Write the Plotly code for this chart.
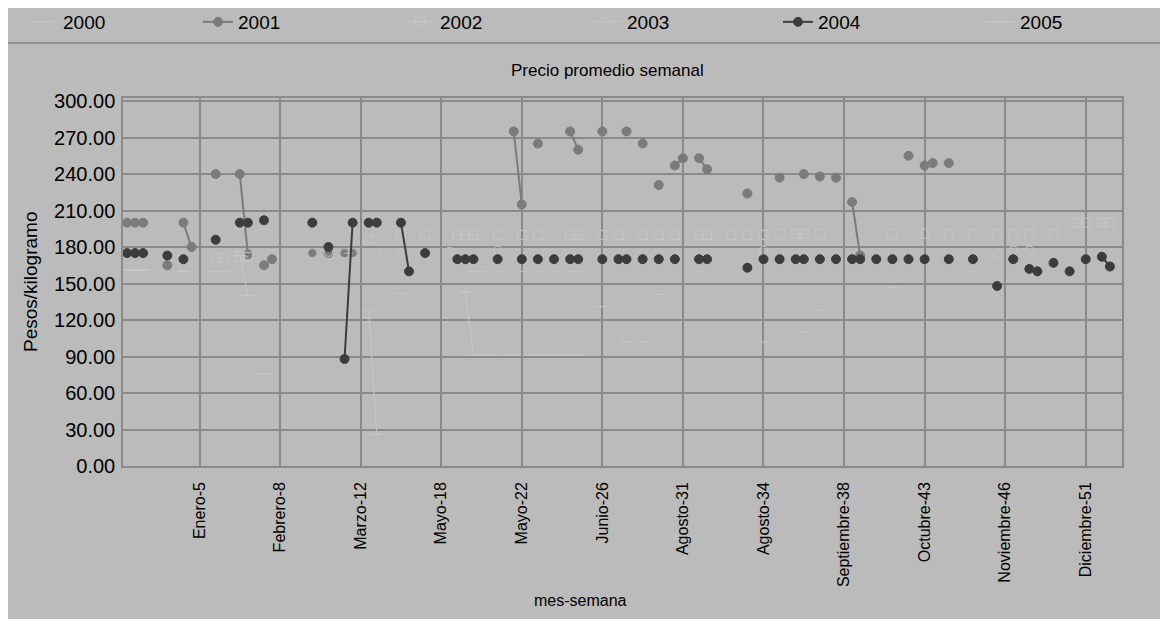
import plotly.graph_objects as go

# ---------------- data ----------------
N_CATS = 124  # mes-semana categories along the x axis (index 0..123)
tick_idx = [9, 19, 29, 39, 49, 59, 69, 79, 89, 99, 109, 119]
tick_labels = ["Enero-5", "Febrero-8", "Marzo-12", "Mayo-18", "Mayo-22", "Junio-26",
               "Agosto-31", "Agosto-34", "Septiembre-38", "Octubre-43",
               "Noviembre-46", "Diciembre-51"]

y2000_idx = [0, 1, 2, 7, 11, 12, 43, 44, 46, 49, 51, 53, 55, 56, 71, 105, 115]
y2000_val = [161, 161, 161, 160, 160, 160, 160, 160, 160, 160, 160, 160, 160, 160, 160, 160, 167]

y2001_idx = [0, 1, 2, 5, 7, 8, 11, 14, 15, 17, 18, 23, 25, 27, 28, 48, 49, 51, 55, 56,
             59, 62, 64, 66, 68, 69, 71, 72, 77, 81, 84, 86, 88, 90, 91, 97, 99, 100, 102]
y2001_val = [200, 200, 200, 165, 200, 180, 240, 240, 174, 165, 170, 175, 175, 175, 175, 275, 215, 265, 275, 260,
             275, 275, 265, 231, 247, 253, 253, 244, 224, 237, 240, 238, 237, 217, 173, 255, 247, 249, 249]

y2002_idx = [11, 12, 14, 15, 30, 34, 37, 41, 42, 43, 46, 49, 51, 55, 56, 59, 61, 64, 66, 68, 71, 72,
             75, 77, 79, 81, 83, 84, 86, 95, 99, 102, 105, 108, 110, 112, 115, 118, 119, 121, 122]
y2002_val = [171, 171, 172, 172, 186, 190, 190, 190, 190, 190, 190, 190, 190, 190, 190, 190, 190, 190, 190, 190, 190, 190,
             190, 190, 190, 191, 191, 191, 191, 191, 191, 191, 191, 191, 191, 191, 191, 200, 200, 200, 200]

y2003_idx = [23, 25, 27, 28, 31, 34, 40, 46, 79, 108, 110, 112]
y2003_val = [175, 176, 175, 175, 175, 175, 176, 177, 177, 174, 177, 177]

y2004_idx = [0, 1, 2, 5, 7, 11, 14, 15, 17, 23, 25, 27, 28, 30, 31, 34, 35, 37, 41, 42,
             43, 46, 49, 51, 53, 55, 56, 59, 61, 62, 64, 66, 68, 71, 72, 77, 79, 81, 83, 84,
             86, 88, 90, 91, 93, 95, 97, 99, 102, 105, 108, 110, 112, 113, 115, 117, 119, 121, 122]
y2004_val = [175, 175, 175, 173, 170, 186, 200, 200, 202, 200, 180, 88, 200, 200, 200, 200, 160, 175, 170, 170,
             170, 170, 170, 170, 170, 170, 170, 170, 170, 170, 170, 170, 170, 170, 170, 163, 170, 170, 170, 170,
             170, 170, 170, 170, 170, 170, 170, 170, 170, 170, 148, 170, 162, 160, 167, 160, 170, 172, 164]

y2005_idx = [0, 1, 2, 7, 14, 15, 17, 30, 31, 34, 42, 43, 44, 45, 47, 48, 50, 51, 52, 53, 54, 55, 56,
             59, 62, 64, 66, 79, 84, 86, 95]
y2005_val = [161, 161, 161, 160, 173, 140, 76, 128, 26, 142, 143, 91, 91, 91, 91, 91, 91, 91, 91, 91, 91, 91, 91,
             131, 102, 102, 141, 102, 110, 128, 147]

# ---------------- helpers ----------------
def full(idx, val):
    arr = [None] * N_CATS
    for i, v in zip(idx, val):
        arr[i] = v
    return arr

x_all = list(range(N_CATS))

W, H = 1168, 619
OFF = 8                       # page body margin
L, R, T, B = 115, 1114, 90, 458   # plot area in figure pixels
PW, PH = R - L, B - T

def px(xpage):
    return (xpage - OFF - L) / PW

def py(ypage):
    return (B - (ypage - OFF)) / PH

BG = "#bbbbbb"
GRID = "#8a8a8a"
FONT = "Liberation Sans, Arial, sans-serif"

fig = go.Figure()

series = [
    ("2000", y2000_idx, y2000_val, "#c4c4c4", "line-ew-open", 1.0),
    ("2001", y2001_idx, y2001_val, "#7b7b7b", "circle", 2.0),
    ("2002", y2002_idx, y2002_val, "#c5c5c5", "square-open", 1.0),
    ("2003", y2003_idx, y2003_val, "#c6c6c6", "circle-open", 1.0),
    ("2004", y2004_idx, y2004_val, "#3c3c3c", "circle", 2.0),
    ("2005", y2005_idx, y2005_val, "#c9c9c9", "line-ew-open", 1.0),
]
legend_names = ["legend", "legend2", "legend3", "legend4", "legend5", "legend6"]
legend_text_x = [63, 238, 440, 627, 818, 1020]   # page x where each legend label starts

legend_layouts = {}
for (name, idx, val, col, sym, lw), lg, tx in zip(series, legend_names, legend_text_x):
    fig.add_trace(go.Scatter(
        x=x_all, y=full(idx, val), name=name, mode="lines+markers",
        connectgaps=False, legend=lg,
        line=dict(color=col, width=lw),
        marker=dict(color=col, size=9, symbol=sym, line=dict(color=col, width=1)),
    ))
    legend_layouts[lg] = dict(orientation="h", x=px(tx - 40), y=py(22),
                              xanchor="left", yanchor="middle",
                              bgcolor="rgba(0,0,0,0)",
                              font=dict(size=19, color="#000000"))

fig.update_layout(
    width=W, height=H,
    margin=dict(l=L, r=W - R, t=T, b=H - B, autoexpand=False),
    paper_bgcolor=BG, plot_bgcolor=BG,
    font=dict(family=FONT, size=16, color="#000000"),
    showlegend=True,
    xaxis=dict(range=[-0.5, N_CATS - 0.5], tickmode="array", tickvals=tick_idx,
               ticktext=tick_labels, tickangle=-90, tickfont=dict(size=16),
               showgrid=True, gridcolor=GRID, gridwidth=1.5,
               showline=True, linecolor=GRID, linewidth=1.5, mirror=True,
               zeroline=False, ticks="", ticklabelstandoff=8),
    yaxis=dict(range=[0, 302.5], tickmode="linear", tick0=0, dtick=30,
               tickformat=".2f", tickfont=dict(size=20),
               showgrid=True, gridcolor=GRID, gridwidth=1.5,
               showline=True, linecolor=GRID, linewidth=1.5, mirror=True,
               zeroline=False, ticks="", ticklabelstandoff=2),
    shapes=[
        dict(type="line", xref="paper", yref="paper", x0=px(0), x1=px(W + 8), y0=py(43), y1=py(43),
             line=dict(color="#8f8f8f", width=2)),
    ],
    annotations=[
        dict(text="Precio promedio semanal", xref="paper", yref="paper", x=px(607), y=py(70),
             xanchor="center", yanchor="middle", showarrow=False, font=dict(size=17)),
        dict(text="mes-semana", xref="paper", yref="paper", x=px(580), y=py(600),
             xanchor="center", yanchor="middle", showarrow=False, font=dict(size=16)),
        dict(text="Pesos/kilogramo", xref="paper", yref="paper", x=px(30), y=py(282),
             xanchor="center", yanchor="middle", showarrow=False, textangle=-90,
             font=dict(size=19)),
    ],
    **legend_layouts,
)

fig.write_html("out.html")
